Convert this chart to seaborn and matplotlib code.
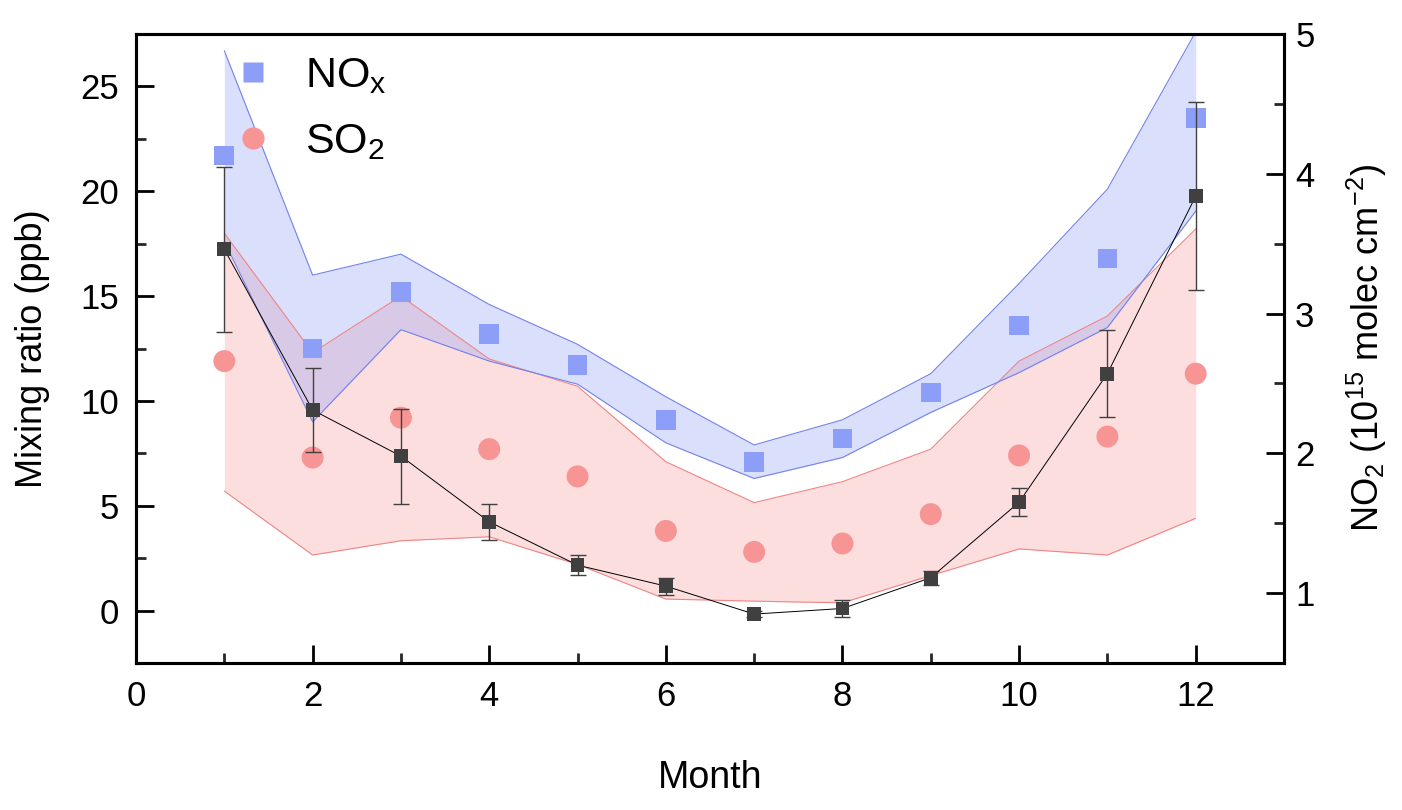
import numpy as np
import matplotlib
matplotlib.use("Agg")
import matplotlib.pyplot as plt
from matplotlib.lines import Line2D
from matplotlib.ticker import MultipleLocator
import seaborn as sns
import pandas as pd

# ---------------------------
# DATA
# ---------------------------
months = [1, 2, 3, 4, 5, 6, 7, 8, 9, 10, 11, 12]

nox = [21.7, 12.5, 15.2, 13.2, 11.7, 9.1, 7.1, 8.2, 10.4, 13.6, 16.8, 23.5]
nox_hi = [26.7, 16.0, 17.0, 14.6, 12.7, 10.2, 7.9, 9.1, 11.3, 15.6, 20.1, 27.6]
nox_lo = [17.6, 9.0, 13.4, 11.9, 10.8, 8.0, 6.3, 7.3, 9.45, 11.35, 13.5, 19.05]

so2 = [11.9, 7.3, 9.2, 7.7, 6.4, 3.8, 2.8, 3.2, 4.6, 7.4, 8.3, 11.3]
so2_hi = [18.0, 12.3, 15.0, 12.0, 10.7, 7.1, 5.15, 6.15, 7.7, 11.9, 14.05, 18.2]
so2_lo = [5.7, 2.65, 3.33, 3.52, 2.2, 0.55, 0.45, 0.37, 1.67, 2.94, 2.65, 4.4]

no2 = [3.46, 2.31, 1.98, 1.51, 1.20, 1.05, 0.85, 0.89, 1.11, 1.65, 2.57, 3.84]
no2_err = [0.59, 0.30, 0.34, 0.13, 0.07, 0.06, 0.02, 0.06, 0.05, 0.10, 0.31, 0.67]

# ---------------------------
# STYLE
# ---------------------------
sns.set_theme(style="ticks")
plt.rcParams["font.family"] = ["Liberation Sans", "DejaVu Sans"]
plt.rcParams["mathtext.fontset"] = "custom"
plt.rcParams["mathtext.rm"] = "Liberation Sans"
plt.rcParams["mathtext.it"] = "Liberation Sans:italic"
plt.rcParams["mathtext.default"] = "regular"
plt.rcParams["text.color"] = "black"
plt.rcParams["axes.labelcolor"] = "black"

BLUE = "#8C9EF8"
BLUE_EDGE = "#7282EC"
RED = "#F79494"
RED_EDGE = "#F08484"
DARK = "#404040"

df = pd.DataFrame({"month": months, "nox": nox, "so2": so2, "no2": no2})

fig = plt.figure(figsize=(14.02, 8.10), dpi=100)
ax = fig.add_axes([136 / 1402, 1 - 663 / 810, (1284 - 136) / 1402, (663 - 34) / 810])

# bands
ax.fill_between(months, so2_lo, so2_hi, color=RED, alpha=0.3, lw=0)
ax.plot(months, so2_lo, color=RED_EDGE, lw=0.8)
ax.plot(months, so2_hi, color=RED_EDGE, lw=0.8)
ax.fill_between(months, nox_lo, nox_hi, color=BLUE, alpha=0.32, lw=0)
ax.plot(months, nox_lo, color=BLUE_EDGE, lw=0.8)
ax.plot(months, nox_hi, color=BLUE_EDGE, lw=0.8)

# markers
sns.scatterplot(data=df, x="month", y="nox", ax=ax, marker="s", s=200,
                color=BLUE, edgecolor="none", zorder=5, legend=False)
sns.scatterplot(data=df, x="month", y="so2", ax=ax, marker="o", s=250,
                color=RED, edgecolor="none", zorder=5, legend=False)

ax.set_xlim(0, 13)
ax.set_ylim(-2.5, 27.5)
ax.xaxis.set_major_locator(MultipleLocator(2))
ax.xaxis.set_minor_locator(MultipleLocator(1))
ax.yaxis.set_major_locator(MultipleLocator(5))
ax.yaxis.set_minor_locator(MultipleLocator(2.5))

# right axis: NO2 column
ax2 = ax.twinx()
ax2.errorbar(months, no2, yerr=no2_err, fmt="none", ecolor=DARK,
             elinewidth=1.0, capsize=6, capthick=1.0, zorder=3)
sns.lineplot(data=df, x="month", y="no2", ax=ax2, color="black", lw=0.7,
             zorder=4, legend=False)
sns.scatterplot(data=df, x="month", y="no2", ax=ax2, marker="s", s=100,
                color=DARK, edgecolor="none", zorder=6, legend=False)
ax2.set_ylim(0.5, 5)
ax2.yaxis.set_major_locator(MultipleLocator(1))
ax2.yaxis.set_minor_locator(MultipleLocator(0.5))

# axes cosmetics
for a in (ax, ax2):
    for sp in a.spines.values():
        sp.set_visible(True)
        sp.set_linewidth(2.2)
        sp.set_color("black")
ax.tick_params(axis="both", which="major", direction="in", length=13, width=2.0,
               labelsize=25, pad=12, colors="black")
ax.tick_params(axis="both", which="minor", direction="in", length=7, width=2.0)
ax.tick_params(axis="y", right=False)
ax.tick_params(axis="x", top=False)
ax2.tick_params(axis="y", which="major", direction="in", length=13, width=2.0,
                labelsize=25, pad=8, colors="black")
ax2.tick_params(axis="y", which="minor", direction="in", length=7, width=2.0)

ax.set_xlabel("Month", fontsize=27)
ax.set_ylabel("Mixing ratio (ppb)", fontsize=26)
ax2.set_ylabel("NO$_2$ (10$^{15}$ molec cm$^{-2}$)", fontsize=26)
ax.xaxis.set_label_coords(0.5, -0.154)
ax.yaxis.set_label_coords(-0.075, 0.5)
ax2.yaxis.set_label_coords(1.053, 0.5)

# legend
handles = [
    Line2D([], [], ls="none", marker="s", markersize=14, color=BLUE, markeredgecolor="none"),
    Line2D([], [], ls="none", marker="o", markersize=16, color=RED, markeredgecolor="none"),
]
ax2.legend(handles, ["NO$_x$", "SO$_2$"], loc="upper left", bbox_to_anchor=(0.064, 1.0),
           frameon=False, fontsize=31, handlelength=1.0, handletextpad=0.7,
           labelspacing=0.6, borderaxespad=0.12)

fig.savefig("out.png", dpi=100)
